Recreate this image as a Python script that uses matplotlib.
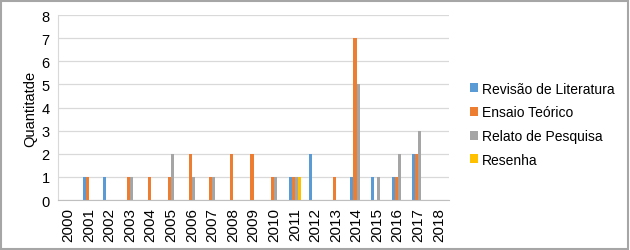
import numpy as np
import matplotlib.pyplot as plt
from matplotlib.patches import Rectangle

plt.rcParams['font.family'] = ['Liberation Sans', 'DejaVu Sans']

years = [str(y) for y in range(2000, 2019)]
revisao = [0, 1, 1, 0, 0, 0, 0, 0, 0, 0, 0, 1, 2, 0, 1, 1, 1, 2, 0]
ensaio = [0, 1, 0, 1, 1, 1, 2, 1, 2, 2, 1, 1, 0, 1, 7, 0, 1, 2, 0]
relato = [0, 0, 0, 1, 0, 2, 1, 1, 0, 0, 1, 1, 0, 0, 5, 1, 2, 3, 0]
resenha = [0, 0, 0, 0, 0, 0, 0, 0, 0, 0, 0, 1, 0, 0, 0, 0, 0, 0, 0]

series = [
    ('Revisão de Literatura', revisao, '#5B9BD5'),
    ('Ensaio Teórico', ensaio, '#ED7D31'),
    ('Relato de Pesquisa', relato, '#A5A5A5'),
    ('Resenha', resenha, '#FFC000'),
]

fig = plt.figure(figsize=(6.3, 2.51), dpi=100)
ax = fig.add_axes([0.092, 0.199, 0.621, 0.737])

x = np.arange(len(years))
w = 0.15
for i, (name, vals, color) in enumerate(series):
    ax.bar(x + (i - 1.5) * w, vals, width=w, color=color, label=name)

ax.set_xlim(-0.5, len(years) - 0.5)
ax.set_ylim(0, 8)
ax.set_yticks(range(0, 9))
ax.set_xticks(x)
ax.set_xticklabels(years, rotation=90, fontsize=11)
ax.tick_params(axis='y', labelsize=10.5)
ax.tick_params(axis='both', length=0, colors='#000000')
ax.tick_params(axis='x', pad=5)
ax.tick_params(axis='y', pad=6)
ax.yaxis.grid(True, color='#D9D9D9', linewidth=0.9)
ax.set_axisbelow(True)
for s in ['top', 'right']:
    ax.spines[s].set_visible(False)
ax.spines['left'].set_color('#D9D9D9')
ax.spines['bottom'].set_color('#BFBFBF')
ax.set_ylabel('Quantitatde', fontsize=10.5, labelpad=3)

ax.legend(loc='center left', bbox_to_anchor=(1.02, 0.41), frameon=False,
          fontsize=10, handlelength=0.6, handleheight=0.6, handletextpad=0.3,
          labelspacing=0.7)

fig.patches.append(Rectangle((0.002, 0.004), 0.995, 0.99, transform=fig.transFigure,
                             fill=False, edgecolor='#A6A6A6', linewidth=1.5))

fig.savefig('out.png', dpi=100)
